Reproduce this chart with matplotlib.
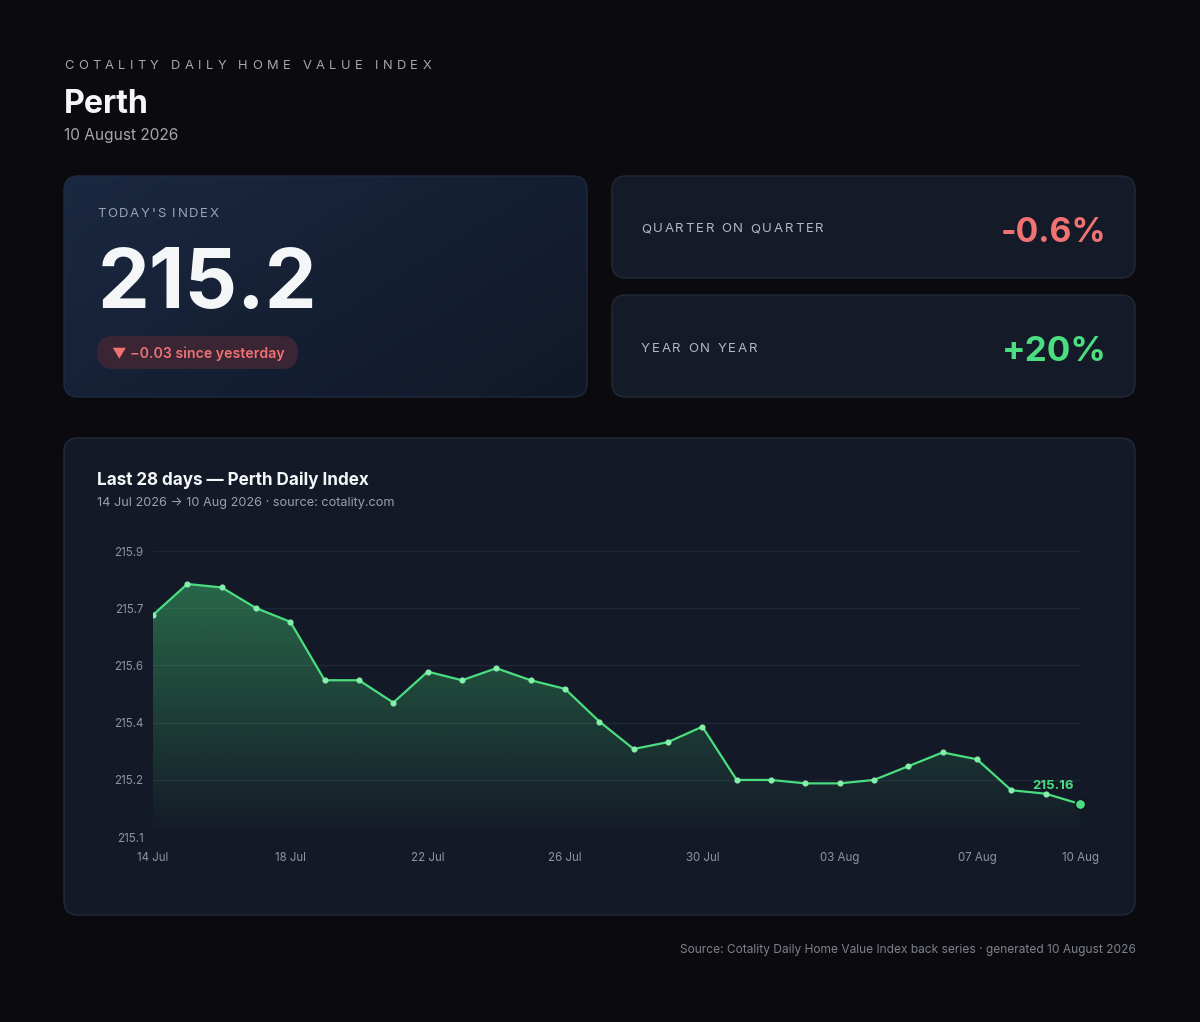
import matplotlib
matplotlib.use("Agg")
import matplotlib.pyplot as plt
import numpy as np
import pandas as pd
from matplotlib.patches import FancyBboxPatch
from matplotlib.colors import to_rgb

# ---------------- data ----------------
city = "Perth"
report_date = "10 August 2026"
dates = pd.date_range("2026-07-14", "2026-08-10", freq="D")
index_values = [215.71, 215.80, 215.79, 215.73, 215.69, 215.52, 215.52, 215.455,
                215.545, 215.52, 215.555, 215.52, 215.495, 215.40, 215.32, 215.34,
                215.385, 215.23, 215.23, 215.22, 215.22, 215.23, 215.27, 215.31,
                215.29, 215.20, 215.19, 215.16]
x_tick_pos = [0, 4, 8, 12, 16, 20, 24, 27]
x_tick_labels = ["14 Jul", "18 Jul", "22 Jul", "26 Jul", "30 Jul", "03 Aug", "07 Aug", "10 Aug"]
today_index = "215.2"
change_text = "\u25BC \u22120.03 since yesterday"
qoq_label, qoq_value = "QUARTER ON QUARTER", "-0.6%"
yoy_label, yoy_value = "YEAR ON YEAR", "+20%"

# ---------------- style ----------------
BG = "#0b0b0f"
CARD = "#141a27"
CHART_CARD = "#131926"
BORDER = "#222a38"
WHITE = "#f5f6f8"
GRAY = "#a3a7ae"
GREEN = "#4ade80"
RED = "#f07272"
FONT = ["Inter", "DejaVu Sans"]
plt.rcParams["font.family"] = FONT

W, H = 1200, 1022
fig = plt.figure(figsize=(W / 100, H / 100), dpi=100, facecolor=BG)
bg = fig.add_axes([0, 0, 1, 1])
bg.set_xlim(0, W)
bg.set_ylim(H, 0)
bg.axis("off")
renderer = fig.canvas.get_renderer()


def text_width(s, size, weight="normal"):
    t = bg.text(0, 0, s, fontsize=size, fontweight=weight)
    w = t.get_window_extent(renderer).width
    t.remove()
    return w


def fit_text(x, y, s, target_w, size, color, weight="normal", ha="left", va="baseline", z=3):
    w = text_width(s, size, weight)
    size = size * target_w / w
    return bg.text(x, y, s, fontsize=size, color=color, fontweight=weight, ha=ha, va=va,
                   zorder=z)


def spaced_text(x, y, s, target_w, size, color, weight="normal", z=3):
    widths = []
    space_w = size * 100 / 72 * 0.28
    for ch in s:
        widths.append(space_w if ch == " " else text_width(ch, size, weight))
    sp = (target_w - sum(widths)) / (len(s) - 1)
    cx = x
    for ch, w in zip(s, widths):
        if ch != " ":
            bg.text(cx, y, ch, fontsize=size, color=color, fontweight=weight,
                    ha="left", va="baseline", zorder=z)
        cx += w + sp


def card(x0, y0, x1, y1, fc, ec=BORDER, r=14, z=1):
    p = FancyBboxPatch((x0, y0), x1 - x0, y1 - y0,
                       boxstyle=f"round,pad=0,rounding_size={r}",
                       fc=fc, ec=ec, lw=1, zorder=z)
    bg.add_patch(p)
    return p


# ---------------- header ----------------
spaced_text(64, 69.3, "COTALITY DAILY HOME VALUE INDEX", 367, 9.3, GRAY)
fit_text(64, 112.7, city, 85, 22.5, WHITE, weight="bold")
fit_text(64, 140, report_date, 114, 11.3, GRAY)

# ---------------- today card (gradient) ----------------
p1 = card(64, 176, 587, 397, "none", ec="#1f2a3d", z=2)
c_tl = np.array(to_rgb("#1a2841"))
c_br = np.array(to_rgb("#111828"))
gy, gx = np.mgrid[0:1:120j, 0:1:240j]
tmix = (gx * 0.6 + gy * 0.4)[..., None]
grad = c_tl * (1 - tmix) + c_br * tmix
im = bg.imshow(grad, extent=[64, 587, 397, 176], origin="upper", aspect="auto", zorder=1)
im.set_clip_path(p1)
bg.set_xlim(0, W)
bg.set_ylim(H, 0)

spaced_text(97, 216.7, "TODAY'S INDEX", 121.6, 9.5, "#9aa3b3")
fit_text(98, 308.3, today_index, 220, 61, WHITE, weight="bold")
card(97, 336, 298, 369, "#3a2534", ec="none", r=16.5, z=2)
fit_text(111.7, 357.7, change_text, 172.6, 11.5, RED, weight="semibold")

# ---------------- QoQ / YoY cards ----------------
card(612, 176, 1135, 278, CARD)
spaced_text(641, 232.3, qoq_label, 182.6, 9.5, "#b3b8c2")
fit_text(1106.4, 241.7, qoq_value, 106, 26.4, RED, weight="bold", ha="right")

card(612, 295, 1135, 397, CARD)
spaced_text(641, 351.7, yoy_label, 116, 9.5, "#b3b8c2")
fit_text(1106.4, 360.7, yoy_value, 105, 26.4, GREEN, weight="bold", ha="right")

# ---------------- chart card ----------------
card(64, 438, 1135, 915, CHART_CARD)
fit_text(97, 485, "Last 28 days \u2014 Perth Daily Index", 273, 13.9, WHITE, weight="bold")
fit_text(97, 505.7, "14 Jul 2026 \u2192 10 Aug 2026 \u00b7 source: cotality.com", 298.7, 10, "#9ba0aa")

# footer
fit_text(1135.7, 953, "Source: Cotality Daily Home Value Index back series \u00b7 generated 10 August 2026",
         454, 9.4, "#7d818a", ha="right")

# ---------------- line chart ----------------
ax = fig.add_axes([153 / W, (H - 837) / H, 927 / W, 286 / H])
ax.set_facecolor("none")
ax.set_zorder(5)
vals = np.array(index_values)
xs = np.arange(len(vals))
vmin, vmax = vals.min(), vals.max()
pad = 0.15 * (vmax - vmin)
lo, hi = vmin - pad, vmax + pad

poly = ax.fill_between(xs, vals, lo, color="none", lw=0)
path = poly.get_paths()[0]
g = np.zeros((256, 1, 4))
g[..., :3] = to_rgb(GREEN)
g[:, 0, 3] = np.linspace(0.45, 0.0, 256)
gim = ax.imshow(g, extent=[0, len(vals) - 1, lo, hi], origin="upper", aspect="auto", zorder=1)
gim.set_clip_path(path, transform=ax.transData)

ax.plot(xs, vals, color=GREEN, lw=1.6, marker="o", ms=3.4, mfc="#86efac", mec="#86efac",
        zorder=3)
ax.plot(xs[-1], vals[-1], "o", ms=7.5, color=GREEN, mec="#0e131d", mew=1.2,
        clip_on=False, zorder=4)
ax.annotate(f"{vals[-1]:.2f}", (xs[-1], vals[-1]), xytext=(-27, 18),
            textcoords="offset pixels", ha="center", va="center",
            color=GREEN, fontsize=9.5, fontweight="bold", zorder=5)

ax.set_xlim(0, len(vals) - 1)
ax.set_ylim(lo, hi)
yt = np.linspace(lo, hi, 6)
ax.set_yticks(yt)
ax.set_yticklabels([f"{v:.1f}" for v in yt])
ax.set_xticks(x_tick_pos)
ax.set_xticklabels(x_tick_labels)
ax.grid(axis="y", color="#1f2735", lw=1)
ax.grid(axis="x", visible=False)
ax.set_axisbelow(True)
for s in ax.spines.values():
    s.set_visible(False)
ax.tick_params(axis="both", length=0, colors="#8e94a0", labelsize=8.3)
ax.tick_params(axis="y", pad=7)
ax.tick_params(axis="x", pad=10.5)

fig.savefig("out.png", dpi=100, facecolor=BG)
